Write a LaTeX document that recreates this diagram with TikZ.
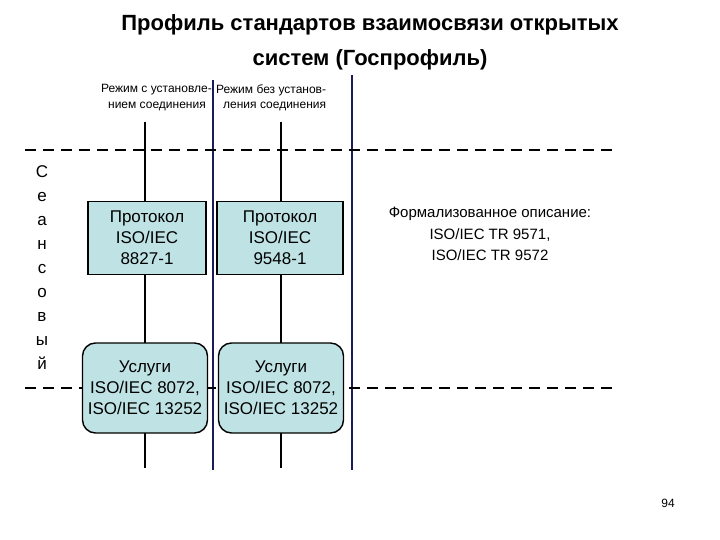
\documentclass[tikz,border=0pt]{standalone}
\usepackage{fontspec}
\setmainfont{Liberation Sans}
\begin{document}
\begin{tikzpicture}[x=1pt,y=-1pt,
  box/.style={draw,line width=1.4pt,fill=boxc,align=center,font=\fontsize{17}{21}\selectfont,inner sep=0pt},
  hdr/.style={font=\fontsize{12}{14}\selectfont,inner sep=0pt},
  bl/.style={draw=navy,line width=1.5pt},
  dsh/.style={dashed,dash pattern=on 11pt off 7pt,line width=1.3pt}]
\definecolor{boxc}{HTML}{BFE3E5}
\definecolor{navy}{HTML}{1A1A5E}
\useasboundingbox (0,0) rectangle (720,540);
\node[font=\bfseries\fontsize{22}{35}\selectfont,align=center] (title) at (370,42) {Профиль стандартов взаимосвязи открытых\\систем (Госпрофиль)};
\coordinate (b1t) at (213,80); \coordinate (b1b) at (213,470);
\coordinate (b2t) at (352,75); \coordinate (b2b) at (352,470);
\draw[bl] (b1t) -- (b1b);
\draw[bl] (b2t) -- (b2b);
\coordinate (k1t) at (145,122); \coordinate (k1b) at (145,468);
\coordinate (k2t) at (281,122); \coordinate (k2b) at (281,468);
\draw[line width=1.4pt] (k1t) -- (k1b);
\draw[line width=1.4pt] (k2t) -- (k2b);
\coordinate (d1a) at (25,150); \coordinate (d1b) at (612,150);
\coordinate (d2a) at (25,388); \coordinate (d2b) at (612,388);
\draw[dsh] (d1a) -- (d1b);
\draw[dsh] (d2a) -- (d2b);
\node[hdr,anchor=east] (h1a) at (212,90) {Режим с установле-};
\node[hdr,anchor=east] (h1b) at (206,106) {нием соединения};
\node[hdr,anchor=west] (h2a) at (216,90) {Режим без  установ-};
\node[hdr,anchor=west] (h2b) at (223,106) {ления соединения};
\node[box,minimum width=118pt,minimum height=73pt] (p1) at (147,238) {Протокол\\ISO/IEC\\8827-1};
\node[box,minimum width=126pt,minimum height=73pt] (p2) at (280,238) {Протокол\\ISO/IEC\\9548-1};
\node[box,rounded corners=13pt,minimum width=125pt,minimum height=90pt] (s1) at (145,388) {Услуги\\ISO/IEC 8072,\\ISO/IEC 13252};
\node[box,rounded corners=13pt,minimum width=125pt,minimum height=90pt] (s2) at (281,388) {Услуги\\ISO/IEC 8072,\\ISO/IEC 13252};
\node[align=center,inner sep=0pt,font=\fontsize{17}{24}\selectfont] (lv) at (42,268) {С\\е\\а\\н\\с\\о\\в\\ы\\й};
\node[align=center,inner sep=0pt,font=\fontsize{15}{21.5}\selectfont] (fd) at (490,234) {Формализованное описание:\\ISO/IEC TR 9571,\\ISO/IEC TR 9572};
\node[font=\fontsize{12}{14}\selectfont] (pg) at (668,503) {94};
\end{tikzpicture}
\end{document}
